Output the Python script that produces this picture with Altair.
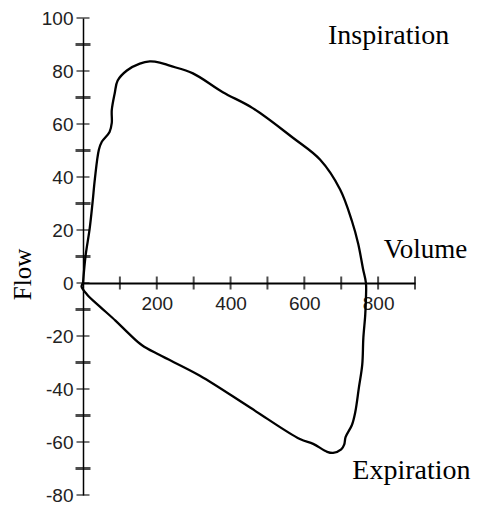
import altair as alt
import pandas as pd

# Flow-volume loop
insp_volume = [0, 7, 18, 26, 32, 43, 51, 72, 78, 78, 86, 94, 119, 154, 181, 208, 235, 298,
               379, 460, 569, 643, 697, 729, 746, 759, 767]
insp_flow = [0, 10.3, 20.4, 30.5, 39, 50.3, 53.3, 57, 60.4, 65.2, 71.6, 76.4, 80.2, 82.8,
             83.6, 83.2, 82, 79.1, 72, 66, 54.8, 46.5, 35.3, 23.4, 14.8, 5.4, 0]
exp_volume = [767, 765, 760, 757, 748, 738, 729, 712, 708, 700, 678, 662, 624, 588, 453,
              317, 208, 160, 125, 88, 45, 12, -4, 0]
exp_flow = [-5.8, -12.2, -20.7, -30.8, -39.4, -48.8, -53.6, -58.1, -61, -62.8, -64.1,
            -63.7, -60.7, -58.9, -47, -35, -27.2, -23.5, -19.2, -14.2, -8.8, -4.5, -1.3, 0]

y_label_values = [-80, -60, -40, -20, 0, 20, 40, 60, 80, 100]
y_minor_ticks = [-70, -50, -30, -10, 10, 30, 50, 70, 90]
x_label_values = [200, 400, 600, 800]
x_ticks = [100, 200, 300, 400, 500, 600, 700, 800, 900]

vols = insp_volume + exp_volume
flows = insp_flow + exp_flow
loop = pd.DataFrame({"volume": vols, "flow": flows, "order": list(range(len(vols)))})

xscale = alt.Scale(domain=[0, 900], nice=False, zero=False)
yscale = alt.Scale(domain=[-80, 100], nice=False, zero=False)

label_font = "Liberation Sans"
serif = "Liberation Serif"

line = alt.Chart(loop).mark_line(color="black", strokeWidth=2.3, clip=False,
                                 interpolate="catmull-rom").encode(
    x=alt.X("volume:Q", scale=xscale,
            axis=alt.Axis(values=x_label_values, orient="bottom", offset=-212, title=None,
                          tickSize=0, labelPadding=11, labelFont=label_font, labelFontSize=19,
                          labelColor="#222", domainColor="black", domainWidth=2, grid=False,
                          labelFlush=False, labelExpr="'' + datum.value")),
    y=alt.Y("flow:Q", scale=yscale,
            axis=alt.Axis(values=y_label_values, title="Flow", titleFont=serif,
                          titleFontSize=25, titleFontWeight="normal", titleColor="#000000",
                          titleAngle=270, titleX=-53, titleY=256, titleAlign="center",
                          titleBaseline="alphabetic",
                          tickSize=0, labelPadding=10, labelFont=label_font, labelFontSize=19,
                          labelColor="#222", domainColor="black", domainWidth=1.5, grid=False,
                          labelFlush=False, labelExpr="'' + datum.value")),
    order="order:Q",
)

ymaj = alt.Chart(pd.DataFrame({"v": y_label_values})).mark_tick(
    orient="horizontal", size=13, thickness=1.5, color="black").encode(
    x=alt.datum(0, scale=xscale), y=alt.Y("v:Q", scale=yscale))
ymin = alt.Chart(pd.DataFrame({"v": y_minor_ticks})).mark_tick(
    orient="horizontal", size=15, thickness=3, color="black").encode(
    x=alt.datum(0, scale=xscale), y=alt.Y("v:Q", scale=yscale))
xt = alt.Chart(pd.DataFrame({"v": x_ticks})).mark_tick(
    orient="vertical", size=13, thickness=2, color="black").encode(
    x=alt.X("v:Q", scale=xscale), y=alt.datum(0, scale=yscale))


def note(text, vx, fy, size=28):
    return alt.Chart(pd.DataFrame({"t": [text]})).mark_text(
        font=serif, fontSize=size, align="left", baseline="alphabetic", color="black"
    ).encode(x=alt.datum(vx, scale=xscale), y=alt.datum(fy, scale=yscale), text="t:N")


chart = alt.layer(
    line, ymaj, ymin, xt,
    note("Inspiration", 664, 90.3),
    note("Volume", 815, 9.5, 27),
    note("Expiration", 730, -73.8),
).properties(
    width=332, height=477,
    autosize=alt.AutoSizeParams(type="none"),
    padding={"left": 75, "top": 10, "right": 57, "bottom": 9},
).configure_view(stroke=None, strokeWidth=0)

chart.save("out.html", embed_options={"renderer": "svg", "actions": False})
